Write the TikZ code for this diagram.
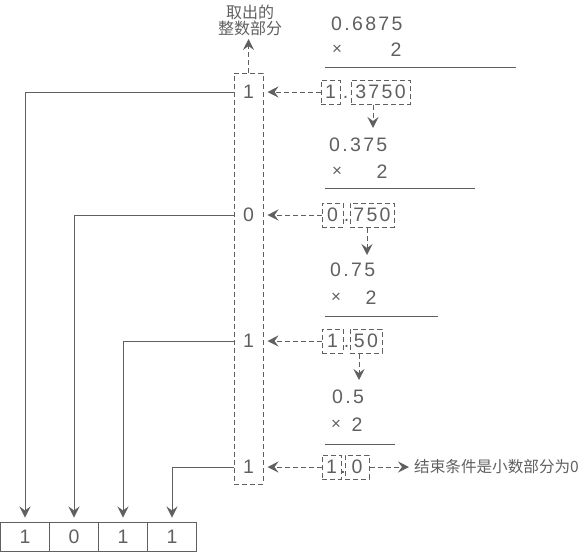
\documentclass[tikz,border=0pt]{standalone}
\usepackage{fontspec}
\setmainfont{Liberation Sans}
\newfontfamily\numfont[LetterSpace=12]{Liberation Sans}
\newfontfamily\cjkfont{Noto Sans CJK SC}
\usetikzlibrary{arrows.meta}
\definecolor{ink}{HTML}{606060}
\begin{document}
\begin{tikzpicture}[x=1pt,y=-1pt,
  every node/.style={text=ink, inner sep=0pt, font=\fontsize{19.5}{22}\selectfont},
  num/.style={font=\numfont\fontsize{19.5}{22}\selectfont},
  ln/.style={draw=ink, line width=1pt},
  dsh/.style={ln, dash pattern=on 5pt off 3pt},
  tip/.style={-{Stealth[length=11pt,width=11pt,inset=4pt]}},
  dbox/.style={dsh, minimum height=24pt},
  rbox/.style={ln, minimum width=49pt, minimum height=29pt},
  cjk/.style={font=\cjkfont\fontsize{16}{16}\selectfont},
  cjkb/.style={font=\cjkfont\fontsize{15.6}{17}\selectfont},
  times/.style={font=\fontsize{17}{18}\selectfont},
]
\useasboundingbox (0,0) rectangle (583,552);

% column of extracted integer parts
\node[dsh, minimum width=29pt, minimum height=411pt] (col) at (248.5,278.5) {};
\node (c1) at (248.5,92) {1};
\node (c2) at (248.5,215) {0};
\node (c3) at (248.5,341) {1};
\node (c4) at (248.5,467) {1};

% top label
\node[cjk, align=center] (lbl) at (250,20) {取出的\\整数部分};
\coordinate (topt) at (248.5,39);
\draw[dsh,tip] (col.north) -- (topt);

% result boxes
\node[rbox] (r1) at (25,536.5) {1};
\node[rbox] (r2) at (74,536.5) {0};
\node[rbox] (r3) at (123,536.5) {1};
\node[rbox] (r4) at (172,536.5) {1};

\draw[ln,tip,shorten >=4pt] (col.west |- c1) -| (r1.north);
\draw[ln,tip,shorten >=4pt] (col.west |- c2) -| (r2.north);
\draw[ln,tip,shorten >=4pt] (col.west |- c3) -| (r3.north);
\draw[ln,tip,shorten >=4pt] (col.west |- c4) -| (r4.north);

% block 1
\node[num, anchor=west] (m1) at (331,24) {0.6875};
\node[times] (x1) at (337,50) {×};
\node (t1) at (396,50) {2};
\draw[ln] (325,67) -- (516,67);
\node[dbox, minimum width=19pt] (i1) at (330.5,92) {1};
\node (p1) at (345.5,92) {\vphantom{0}.};
\node[num, dbox, minimum width=59pt] (f1) at (380.5,92) {3750};
\coordinate (a1) at (373,128);
\draw[dsh,tip,shorten >=4pt] (i1.west) -- (col.east |- i1);
\draw[dsh,tip] (f1.south -| a1) -- (a1);

% block 2
\node[num, anchor=west] (m2) at (329,145) {0.375};
\node[times] (x2) at (337,172) {×};
\node (t2) at (382,172) {2};
\draw[ln] (325,188) -- (475,188);
\node[dbox, minimum width=21pt] (i2) at (332.5,215) {0};
\node (p2) at (346.5,215) {\vphantom{0}.};
\node[num, dbox, minimum width=44pt] (f2) at (372,215) {750};
\coordinate (a2) at (367,255);
\draw[dsh,tip,shorten >=4pt] (i2.west) -- (col.east |- i2);
\draw[dsh,tip] (f2.south -| a2) -- (a2);

% block 3
\node[num, anchor=west] (m3) at (330,270) {0.75};
\node[times] (x3) at (336,298) {×};
\node (t3) at (371,298) {2};
\draw[ln] (325,316) -- (438,316);
\node[dbox, minimum width=21pt] (i3) at (332.5,341) {1};
\node (p3) at (346.5,341) {\vphantom{0}.};
\node[num, dbox, minimum width=32pt] (f3) at (366,341) {50};
\coordinate (a3) at (359,380);
\draw[dsh,tip,shorten >=4pt] (i3.west) -- (col.east |- i3);
\draw[dsh,tip] (f3.south -| a3) -- (a3);

% block 4
\node[num, anchor=west] (m4) at (332,397) {0.5};
\node[times] (x4) at (336,425) {×};
\node (t4) at (357,425) {2};
\draw[ln] (325,444) -- (395,444);
\node[dbox, minimum width=19pt] (i4) at (331.5,467) {1};
\node (p4) at (343,467) {\vphantom{0}.};
\node[dbox, minimum width=24pt] (f4) at (357,467) {0};
\draw[dsh,tip,shorten >=4pt] (i4.west) -- (col.east |- i4);
\node[cjkb, anchor=west] (endt) at (414,467) {结束条件是小数部分为0};
\draw[dsh,tip,shorten >=5pt] (f4.east) -- (endt.west);
\end{tikzpicture}
\end{document}
